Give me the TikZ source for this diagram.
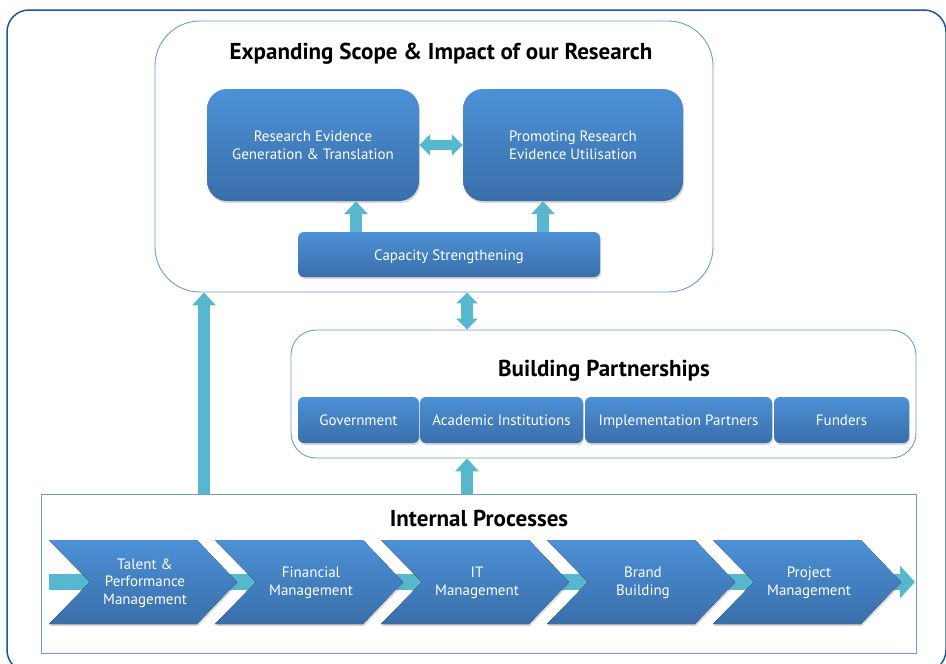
\documentclass[tikz,border=0pt]{standalone}
\usepackage{fontspec}
\setmainfont{PT Sans}
\usetikzlibrary{arrows.meta,shadows}
\definecolor{framedark}{HTML}{1F5596}
\definecolor{framelight}{HTML}{6B9BD2}
\definecolor{boxtop}{HTML}{4C91D6}
\definecolor{boxbot}{HTML}{3A6EAA}
\definecolor{arrowcyan}{HTML}{56B7CF}
\begin{document}
\begin{tikzpicture}[x=1pt, y=-1pt,
    panel/.style={draw=framelight, line width=0.9pt, fill=white, rounded corners=#1},
    bluebox/.style={top color=boxtop, bottom color=boxbot, rounded corners=#1,
        text=white, align=center, inner sep=0pt,
        font=\fontsize{15}{18}\selectfont,
        drop shadow={opacity=0.3, shadow xshift=1pt, shadow yshift=-2pt}},
    tab/.style={bluebox=6pt, minimum height=46pt, text height=12.5pt, text depth=1.5pt},
    chevfill/.style={top color=boxtop, bottom color=boxbot,
        drop shadow={opacity=0.3, shadow xshift=1pt, shadow yshift=-2pt}},
    chevtext/.style={text=white, align=center, font=\fontsize{15}{17.5}\selectfont},
    headline/.style={font=\fontsize{23}{27}\selectfont\bfseries},
    bigarrow/.style={draw=arrowcyan, line width=12pt, -{Triangle[length=13pt,width=23pt]}},
    twinarrow/.style={draw=arrowcyan, line width=#1,
        {Triangle[length=11pt,width=21pt]}-{Triangle[length=11pt,width=21pt]}}]
    \useasboundingbox (0,0) rectangle (946,664);
    \draw[framedark, line width=1.5pt, rounded corners=22pt] (7,10) rectangle (946,672);

    % research
    \node[panel=45pt, minimum width=558pt, minimum height=271pt] (scope) at (434,156.5) {};
    \node[headline] (scopetitle) at (441,54) {Expanding Scope \& Impact of our Research};
    \node[bluebox=20pt, minimum width=212pt, minimum height=112pt] (reg) at (313,145)
        {Research Evidence\\Generation \& Translation};
    \node[bluebox=20pt, minimum width=220pt, minimum height=112pt] (pru) at (573,145)
        {Promoting Research\\Evidence Utilisation};
    \node[tab, minimum width=302pt, minimum height=45pt] (cap) at (449,254.5)
        {Capacity Strengthening};
    \coordinate (capL) at (356,0);
    \coordinate (capR) at (543,0);
    \draw[twinarrow=10pt] (reg.east) -- (pru.west);
    \draw[bigarrow] (capL |- cap.north) -- (capL |- reg.south);
    \draw[bigarrow] (capR |- cap.north) -- (capR |- pru.south);

    % partners
    \node[panel=25pt, minimum width=625pt, minimum height=128pt] (partner) at (603.5,394) {};
    \node[headline] (partnertitle) at (604,371) {Building Partnerships};
    \node[tab, minimum width=121pt] (gov) at (358.5,420) {Government};
    \node[tab, minimum width=163pt] (acad) at (501.5,420) {Academic Institutions};
    \node[tab, minimum width=187pt] (impl) at (678.5,420) {Implementation Partners};
    \node[tab, minimum width=135pt] (fund) at (841.5,420) {Funders};

    % internal
    \node[panel=0pt, minimum width=875pt, minimum height=159pt] (internal) at (478.5,573.5) {};
    \node[headline] (internaltitle) at (479,518) {Internal Processes};
    \coordinate (bandstart) at (49,582);
    \coordinate (bandend) at (915,582);
    \draw[draw=arrowcyan, line width=16pt, -{Triangle[length=15pt,width=32pt]}] (bandstart) -- (bandend);
    \foreach \x/\name/\txt in {49/talent/{Talent \&\\Performance\\Management},
        215/finance/{Financial\\Management}, 381/itman/{IT\\Management},
        547/brand/{Brand\\Building}, 713/project/{Project\\Management}} {
        \fill[chevfill] (\x,540) -- ++(148,0) -- ++(40,42) -- ++(-40,42) -- ++(-148,0) -- ++(41,-42) -- cycle;
        \node[chevtext] (\name) at (\x+96,583) {\txt};
    }

    % links between panels
    \coordinate (leftX) at (204,0);
    \coordinate (midX) at (467,0);
    \draw[twinarrow=12pt] (midX |- scope.south) -- (midX |- partner.north);
    \draw[bigarrow] (midX |- internal.north) -- (midX |- partner.south);
    \draw[bigarrow] (leftX |- internal.north) -- (leftX |- scope.south);
\end{tikzpicture}
\end{document}
